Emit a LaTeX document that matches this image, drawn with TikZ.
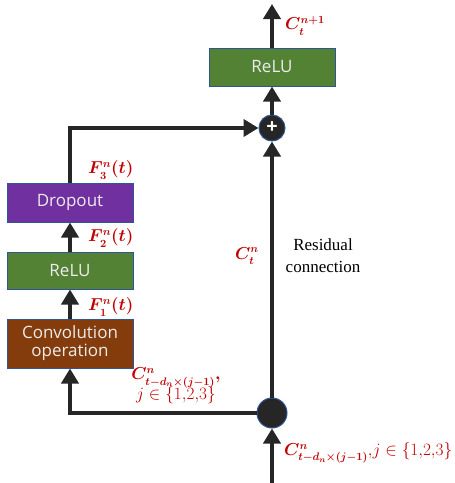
\documentclass[tikz,border=0pt]{standalone}
\usepackage{amsmath}
\usepackage{fontspec}
\setmainfont{Liberation Serif}
\newfontfamily\boxfont{Open Sans}
\usetikzlibrary{arrows.meta}
\definecolor{gr}{HTML}{548235}
\definecolor{pu}{HTML}{7030A0}
\definecolor{br}{HTML}{843C0C}
\definecolor{bd}{HTML}{2F5597}
\definecolor{ln}{HTML}{262626}
\definecolor{lab}{HTML}{C00000}
\definecolor{txt}{HTML}{ECECEC}
\newcommand{\jset}{{\mathversion{normal}$j\in\{1,\!2,\!3\}$}}
\tikzset{
  blk/.style={draw=bd, line width=1pt, minimum width=126pt, text=txt,
    font=\boxfont\fontsize{17}{21}\selectfont, align=center, inner sep=0pt},
  arr/.style={draw=ln, line width=4pt, -{Triangle[width=17pt,length=15pt]}},
  lbl/.style={text=lab, font=\fontsize{16}{19}\selectfont\boldmath, inner sep=0pt},
  jn/.style={circle, fill=ln, draw=bd, line width=1pt, inner sep=0pt}
}
\begin{document}
\begin{tikzpicture}[x=1pt,y=-1pt]
\useasboundingbox (0,0) rectangle (455,483);
\node[blk, fill=gr, minimum height=38pt] (relu2) at (272,67) {ReLU};
\node[blk, fill=pu, minimum height=39pt] (drop) at (70,202.5) {Dropout};
\node[blk, fill=gr, minimum height=37pt] (relu1) at (70,270.5) {ReLU};
\node[blk, fill=br, minimum height=49pt] (conv) at (70,343.5) {Convolution\\[-3pt]operation};
\node[jn, minimum size=26pt, text=white, font=\boxfont\bfseries\fontsize{20}{20}\selectfont] (plus) at (272,128) {+};
\node[jn, minimum size=30pt] (split) at (272,413) {};
\coordinate (top) at (272,4);
\coordinate (bot) at (272,483);
\draw[arr] (relu2.north) -- (top);
\draw[arr] (plus.north) -- (relu2.south);
\draw[arr] (drop.north) |- (plus.west);
\draw[arr] (relu1.north) -- (drop.south);
\draw[arr] (conv.north) -- (relu1.south);
\draw[arr] (split.west) -| (conv.south);
\draw[arr] (bot) -- (split.south);
\draw[arr] (split.north) -- (plus.south);
\node[lbl, anchor=west] (lc) at (285,26) {$C_t^{n+1}$};
\node[lbl, anchor=west] (lf3) at (88,170) {$F_3^n(t)$};
\node[lbl, anchor=west] (lf2) at (88,238) {$F_2^n(t)$};
\node[lbl, anchor=west] (lf1) at (88,307) {$F_1^n(t)$};
\node[lbl, anchor=east] (lct) at (259,256) {$C_t^n$};
\node[align=center, font=\fontsize{17}{22}\selectfont, inner sep=0pt] (res) at (323,256) {Residual\\connection};
\node[lbl, align=center] (lconv) at (176,386) {$C^n_{t-d_n\times(j-1)},$\\[-2pt]\jset};
\node[lbl, anchor=west, font=\fontsize{16}{19}\selectfont] (lbot) at (284,453) {{\boldmath$C^n_{t-d_n\times(j-1)}$}$,$\jset};
\end{tikzpicture}
\end{document}
